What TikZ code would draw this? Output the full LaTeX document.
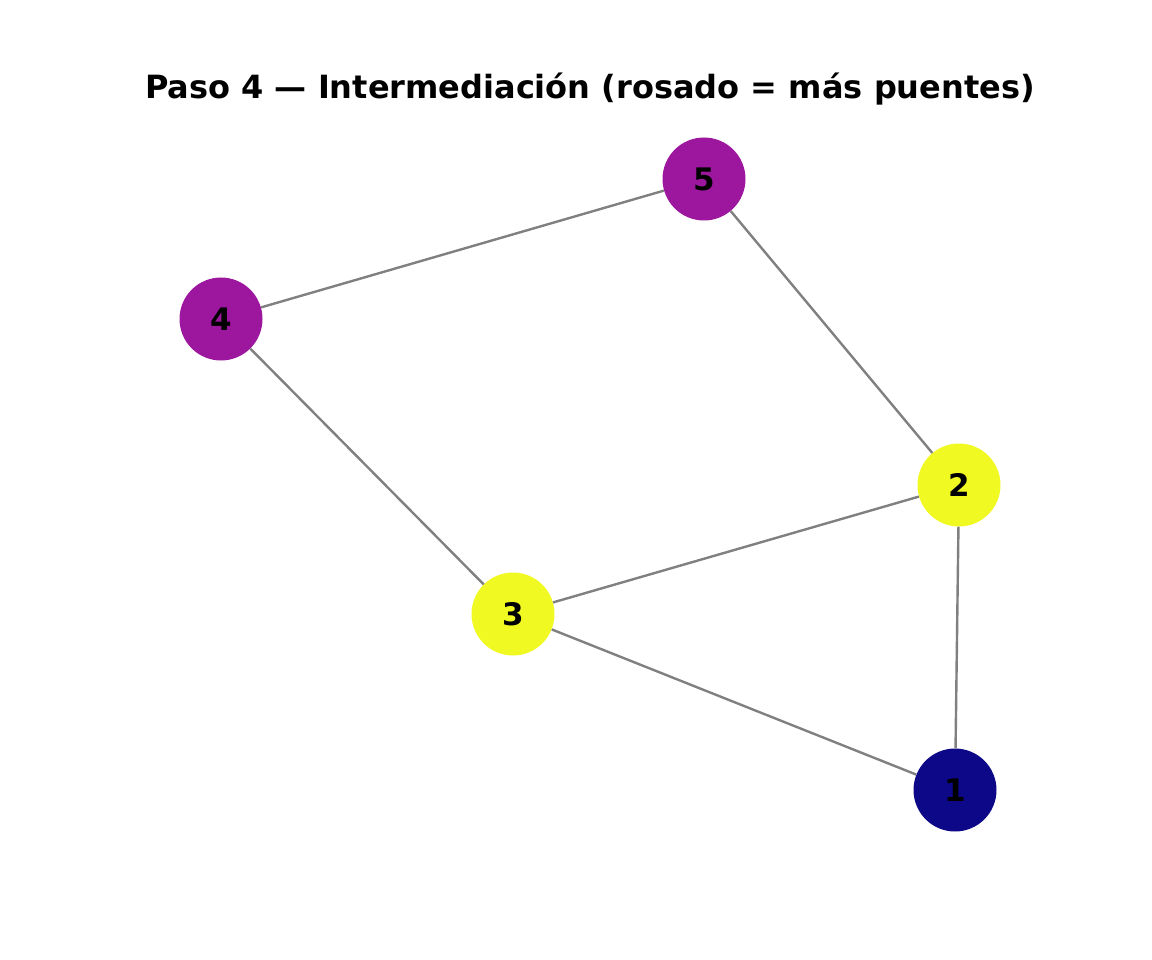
\documentclass[tikz,border=0pt]{standalone}
\usepackage{fontspec}
\setmainfont{DejaVu Sans}
\usepackage{tikz}
\usetikzlibrary{positioning}

\definecolor{plasmaPink}{HTML}{9C179E}
\definecolor{plasmaYellow}{HTML}{F0F921}
\definecolor{plasmaBlue}{HTML}{0D0887}

\tikzset{
  vertex/.style={circle, minimum size=83pt, inner sep=0pt, font=\fontsize{31}{36}\selectfont\bfseries},
  link/.style={draw=gray, line width=2.4pt}
}

\begin{document}
\begin{tikzpicture}[x=1pt, y=-1pt]
        \useasboundingbox (0,0) rectangle (1152,960);
        \node[font=\fontsize{32}{38}\selectfont\bfseries] (Title) at (590,89) {Paso 4 — Intermediación (rosado = más puentes)};
        \node[vertex, fill=plasmaBlue] (One) at (955,790) {1};
        \node[vertex, fill=plasmaYellow] (Two) at (959,485) {2};
        \node[vertex, fill=plasmaYellow] (Three) at (513,614) {3};
        \node[vertex, fill=plasmaPink] (Four) at (221,319) {4};
        \node[vertex, fill=plasmaPink] (Five) at (704,179) {5};
        \draw[link] (Four) -- (Five);
        \draw[link] (Five) -- (Two);
        \draw[link] (Four) -- (Three);
        \draw[link] (Three) -- (Two);
        \draw[link] (Three) -- (One);
        \draw[link] (Two) -- (One);
    \end{tikzpicture}
\end{document}
